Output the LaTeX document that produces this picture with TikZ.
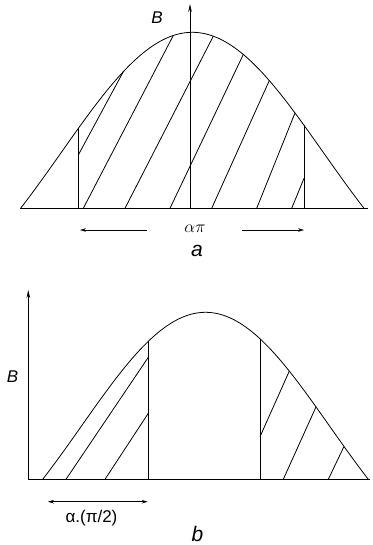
\documentclass[tikz,border=0pt]{standalone}
\usepackage{fontspec}
\setmainfont{Liberation Sans}
\usetikzlibrary{arrows.meta}
\tikzset{
  declare function={bell(\Xa,\Ma,\Wa,\Ha)=\Ha*cos(90*(\Xa-\Ma)/\Wa)*(0.8+0.2*cos(90*(\Xa-\Ma)/\Wa));},
  curve/.style={line width=0.8pt, line join=round},
  hatch/.style={line width=0.8pt},
  axisline/.style={line width=0.8pt, -{Stealth[length=8pt,width=3.6pt]}},
  spanarrow/.style={line width=0.7pt, -{Stealth[length=6pt,width=3.6pt]}},
  lbl/.style={font=\fontsize{17}{17}\selectfont\itshape, inner sep=0pt, anchor=base},
  subcap/.style={font=\fontsize{21}{21}\selectfont\itshape, inner sep=0pt, anchor=base},
  txt/.style={font=\fontsize{17}{17}\selectfont, inner sep=0pt, anchor=base},
}

\begin{document}
\begin{tikzpicture}[x=1pt,y=1pt]
  \useasboundingbox (0,0) rectangle (372,545);
  \begin{scope}[yshift=336.7pt]
    \draw[curve] (20,0) -- (368,0);
    \draw[curve] plot[domain=20.6:364, samples=120, smooth] (\x,{bell(\x,192.3,171.7,176)});
    \coordinate (Aorig) at (190,0);
    \coordinate (Atop) at (190,204.3);
    \draw[axisline] (Aorig) -- (Atop);
    \node[lbl] (Alab) at (157,184.3) {B};
    \draw[hatch] (78.3,0) -- (78.3,{bell(78.3,192.3,171.7,176)});
    \draw[hatch] (304,0) -- (304,{bell(304,192.3,171.7,176)});
    \draw[hatch] (78.3,53.3) -- (123.3,{bell(123.3,192.3,171.7,176)});
    \foreach \b/\t in {83.3/173.3,125/213.3,170/243.3,211.7/269.3,256.7/295} {
      \draw[hatch] (\b,0) -- (\t,{bell(\t,192.3,171.7,176)});
    }
    \draw[hatch] (291.7,0) -- (304,30);
    \node[txt] (Aspan) at (195,-24.7) {$\alpha\pi$};
    \coordinate (AL) at (80,-21.7);
    \coordinate (AR) at (304,-21.7);
    \draw[spanarrow] (147,-21.7) -- (AL);
    \draw[spanarrow] (242,-21.7) -- (AR);
    \node[subcap] (Acap) at (197,-48.7) {a};
  \end{scope}
  \begin{scope}[yshift=65.7pt]
    \coordinate (Borig) at (28.3,0);
    \coordinate (Btop) at (28.3,189.3);
    \draw[axisline] (Borig) -- (Btop);
    \draw[curve] (Borig) -- (370,0);
    \draw[curve] plot[domain=42.7:368.3, samples=120, smooth] (\x,{bell(\x,205.5,162.8,167)});
    \node[lbl] (Blab) at (12.5,97) {B};
    \draw[hatch] (148.3,0) -- (148.3,{bell(148.3,205.5,162.8,167)});
    \draw[hatch] (260,0) -- (260,{bell(260,205.5,162.8,167)});
    \foreach \b/\t in {66/122,105/66} {
      \draw[hatch] (\b,0) -- (148.3,\t);
    }
    \draw[hatch] (260,42.6) -- (289.3,{bell(289.3,205.5,162.8,167)});
    \foreach \b/\t in {283.3/316,328.3/344} {
      \draw[hatch] (\b,0) -- (\t,{bell(\t,205.5,162.8,167)});
    }
    \coordinate (BL) at (48,-22.4);
    \coordinate (BR) at (147.7,-22.4);
    \draw[spanarrow, {Stealth[length=6pt,width=3.6pt]}-{Stealth[length=6pt,width=3.6pt]}] (BL) -- (BR);
    \node[txt] (Bspan) at (91.5,-43.7) {α.(π/2)};
    \node[subcap] (Bcap) at (197.5,-62.7) {b};
  \end{scope}
\end{tikzpicture}
\end{document}
